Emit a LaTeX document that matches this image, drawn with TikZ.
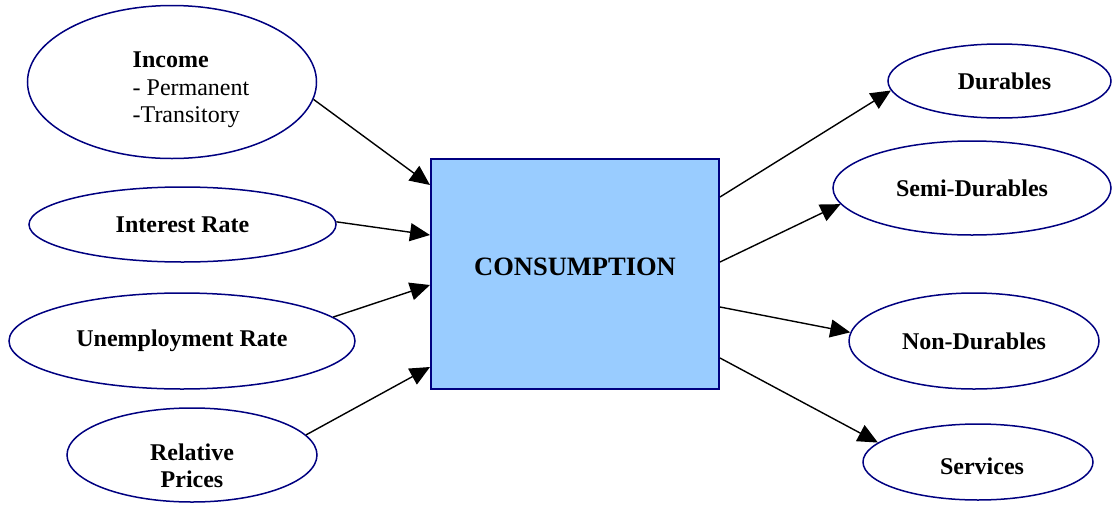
\documentclass[tikz,border=0pt]{standalone}
\usepackage{fontspec}
\setmainfont{Liberation Serif}
\usetikzlibrary{shapes.geometric, arrows.meta}
\definecolor{ovalblue}{RGB}{0,0,128}
\definecolor{boxfill}{RGB}{153,204,255}

\begin{document}
\begin{tikzpicture}[x=1pt, y=-1pt,
    every node/.style={font=\fontsize{24}{27.5}\selectfont\bfseries},
    oval/.style={ellipse, draw=ovalblue, line width=1.5pt, inner sep=0pt},
    flow/.style={-{Triangle[length=20pt, width=18pt]}, line width=1.4pt}]
  \useasboundingbox (0,0) rectangle (1112,504);
  % centre box
  \node[draw=ovalblue, fill=boxfill, line width=2pt, minimum width=288pt, minimum height=230pt,
        label={[yshift=7pt, font=\fontsize{26.5}{30}\selectfont\bfseries]center:CONSUMPTION}] (cons) at (575,274) {};
  % determinants on the left
  \node[oval, minimum width=289pt, minimum height=153pt,
        label={[xshift=19pt, yshift=-8pt, align=left]center:Income\\{\mdseries - Permanent}\\{\mdseries -Transitory}}] (income) at (172,82) {};
  \node[oval, minimum width=307pt, minimum height=75pt] (interest) at (182.5,224.5) {Interest Rate};
  \node[oval, minimum width=346pt, minimum height=96pt] (unemp) at (182,341) {Unemployment Rate};
  \node[oval, minimum width=250pt, minimum height=94pt,
        label={[yshift=-11pt, align=center]center:Relative\\Prices}] (prices) at (192,455) {};
  % components on the right
  \node[oval, minimum width=223pt, minimum height=74pt,
        label={[xshift=5pt]center:Durables}] (durables) at (999.5,81) {};
  \node[oval, minimum width=278pt, minimum height=94pt] (semi) at (972,188) {Semi-Durables};
  \node[oval, minimum width=250pt, minimum height=96pt] (nondur) at (974,341) {Non-Durables};
  \node[oval, minimum width=230pt, minimum height=76pt,
        label={[xshift=4pt, yshift=-4pt]center:Services}] (services) at (978,462) {};
  % arrows in
  \draw[flow] (income.-7) -- ([yshift=89pt]cons.west);
  \draw[flow] (interest.1) -- ([yshift=39pt]cons.west);
  \draw[flow] (unemp.9) -- ([yshift=-11pt]cons.west);
  \draw[flow] (prices.10) -- ([yshift=-93pt]cons.west);
  % arrows out
  \draw[flow] ([yshift=77pt]cons.east) -- (durables.185);
  \draw[flow] ([yshift=12pt]cons.east) -- (semi.187);
  \draw[flow] ([yshift=-33pt]cons.east) -- (nondur.176);
  \draw[flow] ([yshift=-84pt]cons.east) -- (services.169);
\end{tikzpicture}
\end{document}
